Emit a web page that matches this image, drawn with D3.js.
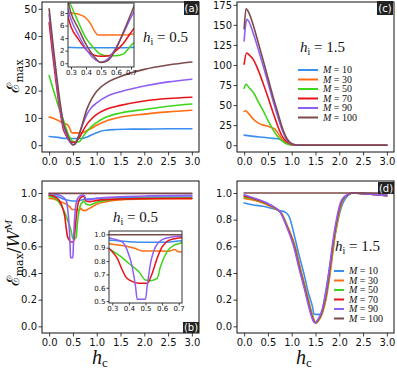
<!DOCTYPE html>
<html>
<head>
<meta charset="utf-8">
<script src="https://cdn.jsdelivr.net/npm/d3@7"></script>
<style>
  body { margin: 0; background: #fff; }
  svg text { font-family: "DejaVu Sans", sans-serif; fill: #111; }
</style>
</head>
<body>
<div id="chart"></div>
<script>
const width = 397;
const height = 370;

// couleurs et étiquettes des séries
const colors = ["#3a8ef0", "#ff6d12", "#3ed41c", "#e8131a", "#8f5ff5", "#7d4a4a"];
const mValues = [10, 30, 50, 70, 90, 100];

const xTicks = [0, 0.5, 1.0, 1.5, 2.0, 2.5, 3.0];
const insetXTicks = [0.3, 0.4, 0.5, 0.6, 0.7];
const aYTicks = [0, 10, 20, 30, 40, 50];
const aInsetYTicks = [0, 2, 4, 6, 8];
const cYTicks = [0, 25, 50, 75, 100, 125, 150, 175];
const bYTicks = [0, 0.2, 0.4, 0.6, 0.8, 1.0];
const bInsetYTicks = [0.5, 0.6, 0.7, 0.8, 0.9, 1.0];

// (a) E_max, h_i = 0.5
const a10 = [[0,3.2],[0.1,3.0],[0.2,2.85],[0.3,2.5],[0.4,2.45],[0.5,2.45],[0.6,2.45],[0.7,2.5],[0.8,3.0],[0.9,3.8],[1.0,4.6],[1.1,5.2],[1.2,5.5],[1.4,5.75],[1.6,5.85],[2.0,5.9],[2.5,6.0],[3.0,6.0]];
const a30 = [[0,10.3],[0.1,9.8],[0.2,9.0],[0.3,8.0],[0.35,7.8],[0.4,7.2],[0.43,6.3],[0.46,5.0],[0.48,4.5],[0.55,4.5],[0.65,4.5],[0.7,4.6],[0.75,4.9],[0.8,5.4],[0.9,6.3],[1.0,7.3],[1.2,8.9],[1.5,10.3],[2.0,11.4],[2.5,12.2],[3.0,12.8]];
const a50 = [[0,25.5],[0.05,22.5],[0.1,19.6],[0.15,16.8],[0.2,14],[0.25,11.5],[0.3,9.2],[0.35,6.5],[0.4,4.0],[0.45,2.5],[0.5,1.4],[0.55,1.2],[0.6,1.2],[0.65,1.5],[0.7,2.8],[0.8,5.2],[0.9,7.0],[1.0,8.3],[1.2,10.3],[1.5,11.8],[2.0,13.1],[2.5,14.3],[3.0,15.1]];
const a70 = [[0,45],[0.05,37],[0.1,29.5],[0.15,22.5],[0.2,16],[0.25,10.5],[0.3,5.8],[0.35,3.8],[0.4,2.2],[0.45,1.3],[0.5,1.1],[0.55,1.2],[0.6,2.0],[0.65,3.2],[0.7,4.9],[0.8,7.8],[0.9,9.8],[1.0,11.3],[1.2,13.2],[1.5,14.6],[2.0,16.2],[2.5,17.1],[3.0,17.6]];
const a90 = [[0,48],[0.05,40],[0.1,32],[0.15,24.5],[0.2,17.5],[0.25,11.5],[0.3,7.0],[0.35,4.5],[0.4,2.3],[0.45,0.8],[0.5,0.2],[0.55,0.8],[0.6,2.5],[0.65,4.8],[0.7,7.3],[0.8,11.5],[0.9,14],[1.0,15.5],[1.25,18.2],[1.5,19.6],[2.0,21.7],[2.5,23.2],[3.0,24.2]];
const a100 = [[0,50],[0.05,42],[0.1,34],[0.15,26.5],[0.2,19.5],[0.25,13.3],[0.3,8.0],[0.35,5.5],[0.4,3.0],[0.45,1.2],[0.5,0.1],[0.55,0.5],[0.6,2.3],[0.65,5.0],[0.7,7.9],[0.8,13.5],[0.9,17.2],[1.0,19.8],[1.25,23.3],[1.5,25.2],[2.0,27.8],[2.5,29.4],[3.0,30.5]];

// (b) E_max / W^M, h_i = 0.5
const b10 = [[0,0.985],[0.1,0.98],[0.2,0.97],[0.3,0.955],[0.4,0.945],[0.5,0.94],[0.6,0.94],[0.7,0.95],[0.8,0.955],[1.0,0.96],[1.5,0.965],[2.0,0.968],[3.0,0.97]];
const b30 = [[0,0.96],[0.1,0.955],[0.2,0.94],[0.3,0.926],[0.38,0.913],[0.44,0.894],[0.48,0.876],[0.55,0.876],[0.64,0.873],[0.675,0.886],[0.7,0.87],[0.75,0.868],[0.8,0.875],[0.9,0.895],[1.0,0.915],[1.2,0.935],[1.5,0.948],[2.0,0.955],[3.0,0.958]];
const b50 = [[0,0.975],[0.1,0.965],[0.2,0.935],[0.3,0.876],[0.34,0.844],[0.4,0.782],[0.46,0.72],[0.5,0.658],[0.53,0.653],[0.57,0.67],[0.59,0.757],[0.63,0.87],[0.67,0.918],[0.7,0.93],[0.73,0.94],[0.78,0.915],[0.85,0.91],[1.0,0.93],[1.2,0.945],[1.5,0.955],[2.0,0.96],[3.0,0.963]];
const b70 = [[0,0.985],[0.1,0.975],[0.2,0.95],[0.3,0.87],[0.33,0.82],[0.36,0.733],[0.38,0.683],[0.41,0.653],[0.46,0.633],[0.51,0.633],[0.54,0.707],[0.57,0.82],[0.6,0.906],[0.64,0.955],[0.7,0.973],[0.73,0.975],[0.78,0.94],[0.85,0.935],[1.0,0.945],[1.5,0.955],[2.0,0.958],[3.0,0.96]];
const b90 = [[0,0.995],[0.1,0.993],[0.2,0.985],[0.3,0.968],[0.36,0.943],[0.39,0.88],[0.42,0.757],[0.44,0.61],[0.45,0.515],[0.5,0.515],[0.51,0.61],[0.53,0.78],[0.56,0.906],[0.6,0.96],[0.66,0.98],[0.7,0.985],[0.73,0.985],[0.78,0.95],[0.85,0.95],[1.0,0.96],[1.5,0.972],[2.0,0.978],[3.0,0.982]];
const b100 = [[0,0.997],[1.0,0.997],[2.0,0.997],[3.0,0.997]];

// (c) E_max, h_i = 1.5
const c10 = [[0,12.5],[0.2,11],[0.4,9.8],[0.6,8.5],[0.75,7.5],[0.85,5],[0.95,1.5],[1.05,0.3],[1.2,0],[2.0,0],[3.0,0]];
const c30 = [[0,42],[0.03,43],[0.1,39],[0.2,32],[0.3,27.5],[0.4,25],[0.5,23.5],[0.6,21.5],[0.65,20],[0.7,16],[0.8,7],[0.9,2],[1.0,0.5],[1.1,0],[2.0,0],[3.0,0]];
const c50 = [[0,71],[0.04,76],[0.1,72],[0.2,65],[0.3,54],[0.4,43],[0.5,31],[0.6,20],[0.7,11],[0.8,5],[0.9,1.5],[1.0,0.3],[1.1,0],[2.0,0],[3.0,0]];
const c70 = [[0,101],[0.05,115],[0.1,113],[0.2,106],[0.3,93],[0.4,77],[0.5,60],[0.6,42],[0.7,25],[0.8,11],[0.9,4],[1.0,1],[1.1,0.2],[1.2,0],[2.0,0],[3.0,0]];
const c90 = [[0,130],[0.03,150],[0.06,157],[0.1,154],[0.2,138],[0.3,119],[0.4,99],[0.5,78],[0.6,57],[0.7,37],[0.8,19],[0.9,6],[1.0,1.5],[1.1,0.2],[1.2,0],[2.0,0],[3.0,0]];
const c100 = [[0,145],[0.04,170],[0.1,165],[0.2,148],[0.3,127],[0.4,106],[0.5,84],[0.6,62],[0.7,42],[0.8,22],[0.9,8],[1.0,2],[1.1,0.3],[1.2,0],[2.0,0],[3.0,0]];

// (d) E_max / W^M, h_i = 1.5
const d10 = [[0,0.925],[0.2,0.91],[0.4,0.9],[0.55,0.888],[0.76,0.867],[0.87,0.855],[0.95,0.82],[1.05,0.69],[1.15,0.54],[1.26,0.39],[1.35,0.25],[1.44,0.142],[1.47,0.09],[1.63,0.09],[1.66,0.15],[1.72,0.27],[1.8,0.45],[1.9,0.667],[2.04,0.89],[2.18,0.98],[2.3,1.0],[2.5,1.0],[3.0,0.985]];
const d30 = [[0,0.96],[0.27,0.94],[0.55,0.9],[0.78,0.85],[0.92,0.745],[1.08,0.59],[1.18,0.44],[1.29,0.29],[1.43,0.093],[1.48,0.04],[1.52,0.025],[1.56,0.04],[1.64,0.093],[1.72,0.2],[1.785,0.34],[1.93,0.72],[2.07,0.94],[2.2,0.99],[2.3,1.0],[2.5,0.995],[3.0,0.98]];
const d50 = [[0,0.97],[0.27,0.945],[0.55,0.905],[0.77,0.852],[0.91,0.744],[1.07,0.59],[1.17,0.44],[1.28,0.29],[1.42,0.093],[1.47,0.04],[1.51,0.025],[1.55,0.04],[1.63,0.093],[1.71,0.2],[1.775,0.34],[1.92,0.72],[2.06,0.94],[2.2,0.99],[2.3,1.0],[2.5,0.995],[3.0,0.98]];
const d70 = [[0,0.978],[0.27,0.95],[0.55,0.908],[0.765,0.853],[0.905,0.743],[1.06,0.59],[1.16,0.44],[1.27,0.29],[1.41,0.093],[1.46,0.04],[1.5,0.025],[1.54,0.04],[1.62,0.093],[1.7,0.2],[1.765,0.34],[1.91,0.72],[2.05,0.94],[2.19,0.99],[2.3,1.0],[2.5,0.995],[3.0,0.98]];
const d90 = [[0,0.987],[0.27,0.955],[0.55,0.912],[0.76,0.855],[0.9,0.742],[1.05,0.59],[1.15,0.44],[1.26,0.29],[1.4,0.093],[1.45,0.04],[1.49,0.025],[1.53,0.04],[1.61,0.093],[1.69,0.2],[1.755,0.34],[1.9,0.72],[2.04,0.94],[2.18,0.99],[2.3,1.0],[2.5,0.995],[3.0,0.98]];
const d100 = [[0,1.0],[1.0,1.0],[2.0,1.0],[3.0,1.0]];

const svg = d3.select('#chart')
  .append('svg')
  .attr('width', width)
  .attr('height', height);

const defs = svg.append('defs');

// Crée un repère (axes + cadre) et renvoie les échelles
function makeAxes(id, box, xDomain, yDomain, xT, yT, fontSize, yFmt, inset) {
  const x = d3.scaleLinear().domain(xDomain).range([box.left, box.right]);
  const y = d3.scaleLinear().domain(yDomain).range([box.bottom, box.top]);
  const g = svg.append('g');

  defs.append('clipPath').attr('id', id)
    .append('rect')
    .attr('x', box.left).attr('y', box.top)
    .attr('width', box.right - box.left).attr('height', box.bottom - box.top);

  if (inset) {
    g.append('rect')
      .attr('x', box.left).attr('y', box.top)
      .attr('width', box.right - box.left).attr('height', box.bottom - box.top)
      .attr('fill', '#fff');
  }

  const curves = g.append('g').attr('clip-path', `url(#${id})`);

  const xAxis = g.append('g')
    .attr('transform', `translate(0,${box.bottom})`)
    .call(d3.axisBottom(x).tickValues(xT).tickFormat(d3.format('.1f')).tickSize(inset ? 2.5 : 3.5).tickSizeOuter(0).tickPadding(inset ? 1 : 2));
  const yAxis = g.append('g')
    .attr('transform', `translate(${box.left},0)`)
    .call(d3.axisLeft(y).tickValues(yT).tickFormat(yFmt).tickSize(inset ? 2.5 : 3.5).tickSizeOuter(0).tickPadding(inset ? 1 : 1.5));

  [xAxis, yAxis].forEach(ax => {
    ax.select('.domain').remove();
    ax.selectAll('line').attr('stroke', '#111').attr('stroke-width', 0.8);
    ax.selectAll('text')
      .attr('font-size', fontSize + 'px')
      .attr('font-family', '"DejaVu Sans", sans-serif')
      .attr('fill', '#111');
  });

  g.append('rect')
    .attr('x', box.left).attr('y', box.top)
    .attr('width', box.right - box.left).attr('height', box.bottom - box.top)
    .attr('fill', 'none')
    .attr('stroke', inset ? '#333' : '#111')
    .attr('stroke-width', 1);

  return { x, y, curves, g };
}

function drawSeries(ax, seriesList, lw) {
  const line = d3.line()
    .x(d => ax.x(d[0]))
    .y(d => ax.y(d[1]))
    .curve(d3.curveMonotoneX);
  ax.curves.selectAll('path')
    .data(seriesList)
    .enter()
    .append('path')
    .attr('d', line)
    .attr('fill', 'none')
    .attr('stroke', (d, i) => colors[i])
    .attr('stroke-width', lw)
    .attr('stroke-linejoin', 'round')
    .attr('stroke-linecap', 'round');
}

// Texte h_i = ...
function hLabel(x, y, value) {
  const t = svg.append('text')
    .attr('x', x).attr('y', y)
    .attr('font-size', '15px')
    .style('font-family', '"Liberation Serif", serif');
  t.append('tspan').attr('font-style', 'italic').text('h');
  t.append('tspan').attr('font-size', '10px').attr('dy', 3).text('i');
  t.append('tspan').attr('dy', -3).attr('xml:space', 'preserve').text(' = ' + value);
}

function panelTag(x, y, w, h, label) {
  svg.append('rect')
    .attr('x', x).attr('y', y).attr('width', w).attr('height', h)
    .attr('fill', '#222');
  svg.append('text')
    .attr('x', x + w / 2).attr('y', y + h / 2 + 3.6)
    .attr('text-anchor', 'middle')
    .attr('font-size', '10px')
    .style('fill', '#fff')
    .text(label);
}

function legend(x0, y0, len, step) {
  const lg = svg.append('g');
  mValues.forEach((m, i) => {
    const yy = y0 + i * step;
    lg.append('line')
      .attr('x1', x0).attr('x2', x0 + len)
      .attr('y1', yy).attr('y2', yy)
      .attr('stroke', colors[i]).attr('stroke-width', 2);
    const t = lg.append('text')
      .attr('x', x0 + len + 5).attr('y', yy + 3.2)
      .attr('font-size', '10px')
      .style('font-family', '"Liberation Serif", serif');
    t.append('tspan').attr('font-style', 'italic').text('M');
    t.append('tspan').attr('xml:space', 'preserve').text(' = ' + m);
  });
}

const fmtInt = d3.format('d');
const fmt1 = d3.format('.1f');
const mainX = [-0.15, 3.15];
const insetX = [0.28, 0.72];

// (a)
const axA = makeAxes('clipA', {left: 42, right: 199, top: 2, bottom: 152}, mainX, [-2.5, 52.5], xTicks, aYTicks, 10, fmtInt, false);
drawSeries(axA, [a10, a30, a50, a70, a90, a100], 1.6);
hLabel(143, 42, '0.5');
panelTag(184, 1, 15, 14, '(a)');
const axAi = makeAxes('clipAi', {left: 68, right: 134, top: 3, bottom: 67}, insetX, [-0.6, 9.6], insetXTicks, aInsetYTicks, 7, fmtInt, true);
drawSeries(axAi, [a10, a30, a50, a70, a90, a100], 1.5);

// (c)
const axC = makeAxes('clipC', {left: 237, right: 394, top: 2, bottom: 152}, mainX, [-8.5, 178.5], xTicks, cYTicks, 10, fmtInt, false);
drawSeries(axC, [c10, c30, c50, c70, c90, c100], 1.6);
hLabel(300, 52, '1.5');
legend(298, 70, 20, 9.5);
panelTag(377, 1, 16, 14, '(c)');

// (b)
const axB = makeAxes('clipB', {left: 42, right: 199, top: 181, bottom: 333}, mainX, [-0.05, 1.09], xTicks, bYTicks, 10, fmt1, false);
drawSeries(axB, [b10, b30, b50, b70, b90, b100], 1.6);
hLabel(113, 222, '0.5');
panelTag(183, 322, 16, 11, '(b)');
const axBi = makeAxes('clipBi', {left: 109, right: 182, top: 231, bottom: 303}, insetX, [0.486, 1.025], insetXTicks, bInsetYTicks, 7, fmt1, true);
drawSeries(axBi, [b10, b30, b50, b70, b90, b100], 1.5);

// (d)
const axD = makeAxes('clipD', {left: 237, right: 394, top: 181, bottom: 333}, mainX, [-0.05, 1.09], xTicks, bYTicks, 10, fmt1, false);
drawSeries(axD, [d10, d30, d50, d70, d90, d100], 1.6);
hLabel(335, 251, '1.5');
legend(334, 271, 10, 9.5);
panelTag(378, 182, 16, 12, '(d)');

// Libellés des axes
const yLabA = svg.append('text')
  .attr('transform', 'translate(19,76) rotate(-90)')
  .attr('text-anchor', 'middle')
  .attr('font-size', '17px')
  .style('font-family', '"DejaVu Serif", serif');
yLabA.append('tspan').text('ℰ');
yLabA.append('tspan').attr('font-size', '11px').attr('dy', 4).text('max');

const yLabB = svg.append('text')
  .attr('transform', 'translate(19,253) rotate(-90)')
  .attr('text-anchor', 'middle')
  .attr('font-size', '17px')
  .style('font-family', '"DejaVu Serif", serif');
yLabB.append('tspan').text('ℰ');
yLabB.append('tspan').attr('font-size', '11px').attr('dy', 4).text('max');
yLabB.append('tspan').attr('dy', -4).text('/');
yLabB.append('tspan').attr('font-style', 'italic').text('W');
yLabB.append('tspan').attr('font-size', '10px').attr('font-style', 'italic').attr('dy', -7).text('M');

[100, 304].forEach(cx => {
  const t = svg.append('text')
    .attr('x', cx).attr('y', 364)
    .attr('text-anchor', 'middle')
    .attr('font-size', '20px')
    .style('font-family', '"Liberation Serif", serif');
  t.append('tspan').attr('font-style', 'italic').text('h');
  t.append('tspan').attr('font-size', '13px').attr('dy', 3).text('c');
});
</script>
</body>
</html>
